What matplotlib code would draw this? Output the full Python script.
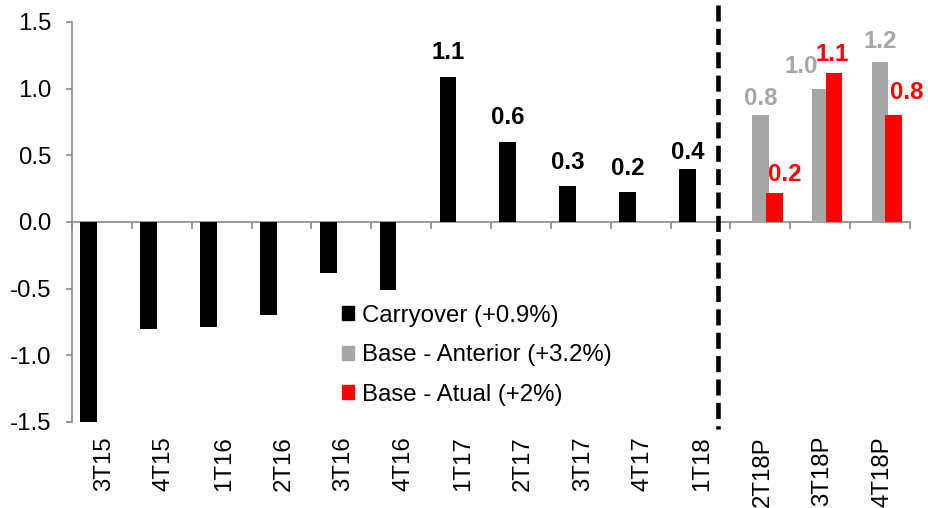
import numpy as np
import matplotlib.pyplot as plt
from matplotlib.patches import Patch

# data
categories = ["3T15", "4T15", "1T16", "2T16", "3T16", "4T16", "1T17",
              "2T17", "3T17", "4T17", "1T18", "2T18P", "3T18P", "4T18P"]
carryover = [-1.5, -0.8, -0.79, -0.7, -0.38, -0.51, 1.09, 0.6, 0.27, 0.225, 0.4]
base_anterior = [0.8, 1.0, 1.2]
base_atual = [0.215, 1.12, 0.8]
legend_labels = ["Carryover (+0.9%)", "Base - Anterior (+3.2%)", "Base - Atual (+2%)"]

BLACK = "#000000"
GRAY = "#A6A6A6"
RED = "#FF0000"
AXIS = "#898989"
FS = 17.3

plt.rcParams['font.family'] = ['Liberation Sans', 'DejaVu Sans']

fig = plt.figure(figsize=(9.29, 5.08), dpi=100)
ax = fig.add_axes([72/929, 1-422/508, (910-72)/929, 400/508])

x = np.arange(len(categories))
n_hist = len(carryover)
xc = x[:n_hist]
xp = x[n_hist:]
w = 0.28

ax.bar(xc - 0.22, carryover, w, color=BLACK, zorder=3)
ax.bar(xp, base_anterior, w, color=GRAY, zorder=3)
ax.bar(xp + 0.23, base_atual, w, color=RED, zorder=4)

# value labels (only positives), offsets in pixels
black_dy = [0, 0, 0, 0, 0, 0, 18, 18, 17, 17, 10]
for xi, v, dy in zip(xc - 0.22, carryover, black_dy):
    if v > 0:
        ax.annotate(f"{v:.1f}", (xi, v), xytext=(0, dy), textcoords="offset pixels",
                    ha="center", va="baseline", fontsize=FS, fontweight="bold", color=BLACK)
gray_dx, gray_dy = [0, -19, 0], [10, 16, 14]
for xi, v, dx, dy in zip(xp, base_anterior, gray_dx, gray_dy):
    ax.annotate(f"{v:.1f}", (xi, v), xytext=(dx, dy), textcoords="offset pixels",
                ha="center", va="baseline", fontsize=FS, fontweight="bold", color=GRAY)
red_dx, red_dy = [11, -2, 13], [12, 12, 16]
for xi, v, dx, dy in zip(xp + 0.23, base_atual, red_dx, red_dy):
    ax.annotate(f"{v:.1f}", (xi, v), xytext=(dx, dy), textcoords="offset pixels",
                ha="center", va="baseline", fontsize=FS, fontweight="bold", color=RED)

# axes styling
ax.set_xlim(-0.5, len(categories) - 0.5)
ax.set_ylim(-1.5, 1.5)
ax.set_yticks(np.arange(-1.5, 1.51, 0.5))
ax.set_yticklabels([f"{t:.1f}" for t in np.arange(-1.5, 1.51, 0.5)], fontsize=FS)
ax.tick_params(axis="y", direction="out", length=4, width=1.2, color=AXIS, pad=10.5)
for s in ["top", "right"]:
    ax.spines[s].set_visible(False)
ax.spines["left"].set_color(AXIS)
ax.spines["left"].set_linewidth(1.2)
ax.spines["bottom"].set_position(("data", 0))
ax.spines["bottom"].set_color(AXIS)
ax.spines["bottom"].set_linewidth(1.2)
ax.set_xticks(x)
ax.set_xticklabels([])
ax.tick_params(axis="x", which="major", length=0)
ax.set_xticks(np.arange(-0.5, len(categories), 1.0), minor=True)
ax.tick_params(axis="x", which="minor", direction="out", length=5, width=1.2, color=AXIS)

# category labels below the plot area
for xi, lab in zip(x, categories):
    ax.annotate(lab, (xi, 0), xycoords=ax.get_xaxis_transform(), xytext=(2, -14),
                textcoords="offset pixels", rotation=90, ha="center", va="top", fontsize=FS)

# dashed separator
ax.plot([10.3, 10.3], [1.63, -1.55], color=BLACK, lw=3.3, dashes=(3.5, 1.6),
        clip_on=False, zorder=5)

handles = [Patch(color=c) for c in (BLACK, GRAY, RED)]
fig.legend(handles, legend_labels, loc="upper left", bbox_to_anchor=(342/929, 1-305/508),
           frameon=False, fontsize=FS, handlelength=0.52, handleheight=0.52,
           handletextpad=0.3, labelspacing=0.72, borderpad=0, borderaxespad=0)

fig.savefig("out.png", dpi=100)
